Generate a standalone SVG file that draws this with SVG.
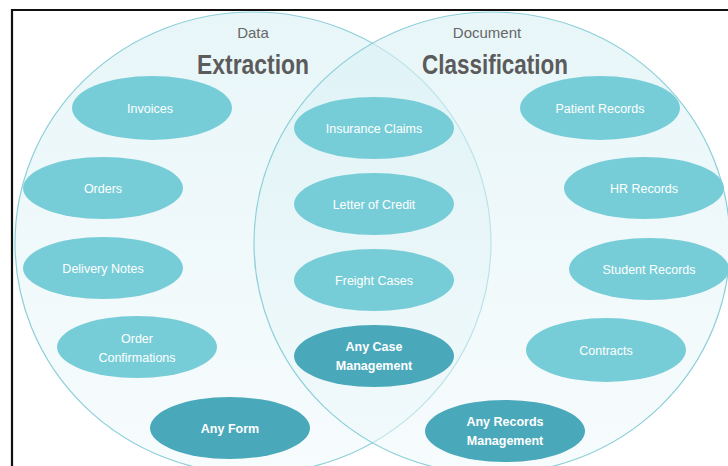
<svg xmlns="http://www.w3.org/2000/svg" width="728" height="466" viewBox="0 0 728 466">
  <style>
    .set { stroke: #8ccfd9; stroke-width: 1.2; fill: url(#setFill); }
    .item { fill: #77cdd7; }
    .key { fill: #4aa8bb; }
    .lbl { font-family: "Liberation Sans", Arial, sans-serif; font-size: 12.5px; fill: #ffffff; text-anchor: middle; }
    .keylbl { font-family: "Liberation Sans", Arial, sans-serif; font-size: 12.5px; font-weight: bold; fill: #ffffff; text-anchor: middle; }
    .sub { font-family: "Liberation Sans", Arial, sans-serif; font-size: 15px; fill: #666666; text-anchor: middle; }
    .title { font-family: "Liberation Sans", Arial, sans-serif; font-size: 27px; font-weight: bold; fill: #5b5b5b; text-anchor: middle; }
  </style>
  <defs>
    <linearGradient id="setFill" x1="0" y1="0" x2="0" y2="1">
      <stop offset="0" stop-color="#d8f0f4" stop-opacity="0.6"/>
      <stop offset="1" stop-color="#eef8fa" stop-opacity="0.5"/>
    </linearGradient>
  </defs>

  <rect width="728" height="466" fill="#ffffff"/>

  <!-- the two overlapping sets -->
  <g id="set-extraction">
    <ellipse class="set" cx="253" cy="243" rx="238" ry="231"/>
  </g>
  <g id="set-classification">
    <ellipse class="set" cx="492" cy="243" rx="238" ry="231"/>
  </g>

  <!-- frame -->
  <path d="M12 466 V10 H728" fill="none" stroke="#111111" stroke-width="2.2"/>

  <!-- headings -->
  <g id="heading-extraction">
    <text class="sub" x="253" y="38">Data</text>
    <text class="title" x="253" y="74" textLength="112" lengthAdjust="spacingAndGlyphs">Extraction</text>
  </g>
  <g id="heading-classification">
    <text class="sub" x="487" y="38">Document</text>
    <text class="title" x="495" y="74" textLength="146" lengthAdjust="spacingAndGlyphs">Classification</text>
  </g>

  <!-- connectors: none in this diagram -->
  <g id="connectors"/>

  <!-- extraction items -->
  <g id="invoices"><ellipse class="item" cx="152" cy="108" rx="80" ry="32"/><text class="lbl" x="150" y="113">Invoices</text></g>
  <g id="orders"><ellipse class="item" cx="103" cy="188" rx="80" ry="31"/><text class="lbl" x="103" y="193">Orders</text></g>
  <g id="delivery-notes"><ellipse class="item" cx="103" cy="268" rx="80" ry="31"/><text class="lbl" x="103" y="273">Delivery Notes</text></g>
  <g id="order-confirmations"><ellipse class="item" cx="137" cy="347" rx="80" ry="31"/><text class="lbl" x="137" y="343">Order</text><text class="lbl" x="137" y="362">Confirmations</text></g>
  <g id="any-form"><ellipse class="key" cx="230" cy="428" rx="80" ry="31"/><text class="keylbl" x="230" y="433">Any Form</text></g>

  <!-- shared items -->
  <g id="insurance-claims"><ellipse class="item" cx="374" cy="128" rx="80" ry="31"/><text class="lbl" x="374" y="133">Insurance Claims</text></g>
  <g id="letter-of-credit"><ellipse class="item" cx="374" cy="204" rx="80" ry="31"/><text class="lbl" x="374" y="209">Letter of Credit</text></g>
  <g id="freight-cases"><ellipse class="item" cx="374" cy="280" rx="80" ry="31"/><text class="lbl" x="374" y="285">Freight Cases</text></g>
  <g id="any-case-management"><ellipse class="key" cx="374" cy="356" rx="80" ry="31"/><text class="keylbl" x="374" y="351">Any Case</text><text class="keylbl" x="374" y="370">Management</text></g>

  <!-- classification items -->
  <g id="patient-records"><ellipse class="item" cx="600" cy="108" rx="80" ry="32"/><text class="lbl" x="600" y="113">Patient Records</text></g>
  <g id="hr-records"><ellipse class="item" cx="644" cy="188" rx="80" ry="31"/><text class="lbl" x="644" y="193">HR Records</text></g>
  <g id="student-records"><ellipse class="item" cx="649" cy="269" rx="80" ry="31"/><text class="lbl" x="649" y="274">Student Records</text></g>
  <g id="contracts"><ellipse class="item" cx="606" cy="350" rx="80" ry="32"/><text class="lbl" x="606" y="355">Contracts</text></g>
  <g id="any-records-management"><ellipse class="key" cx="505" cy="431" rx="80" ry="31"/><text class="keylbl" x="505" y="426">Any Records</text><text class="keylbl" x="505" y="445">Management</text></g>
</svg>
